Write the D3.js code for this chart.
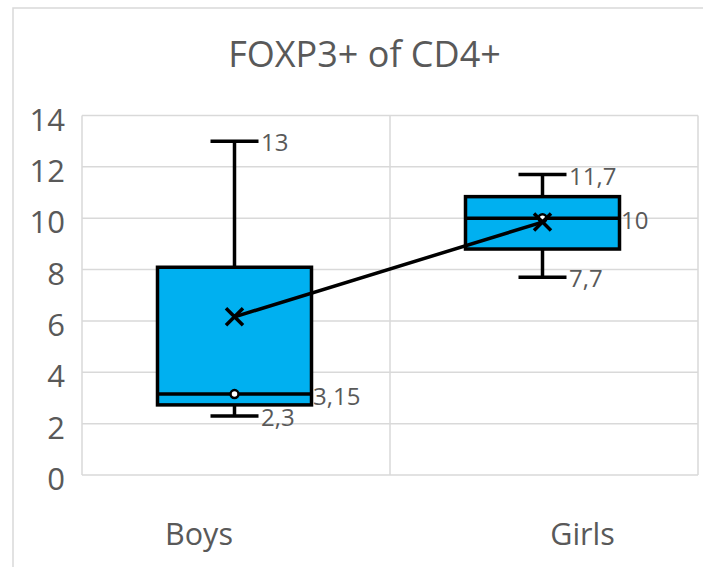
<!DOCTYPE html>
<html>
<head>
<meta charset="utf-8">
<script src="https://cdn.jsdelivr.net/npm/d3@7"></script>
<style>
  html, body { margin: 0; padding: 0; background: #fff; }
  svg { display: block; }
  text { font-family: "Open Sans", "DejaVu Sans", sans-serif; fill: #595959; }
</style>
</head>
<body>
<svg id="chart" width="703" height="567"></svg>
<script>
// ---- Data ----
const title = "FOXP3+ of CD4+";
const categories = ["Boys", "Girls"];
const minValues    = [2.3, 7.7];
const q1Values     = [2.73, 8.8];
const medianValues = [3.15, 10];
const q3Values     = [8.09, 10.84];
const maxValues    = [13, 11.7];
const meanValues   = [6.16, 9.85];
const minLabels    = ["2,3", "7,7"];
const medianLabels = ["3,15", "10"];
const maxLabels    = ["13", "11,7"];
const yTicks = [0, 2, 4, 6, 8, 10, 12, 14];

const data = categories.map((c, i) => ({
  cat: c, min: minValues[i], q1: q1Values[i], med: medianValues[i],
  q3: q3Values[i], max: maxValues[i], mean: meanValues[i],
  minL: minLabels[i], medL: medianLabels[i], maxL: maxLabels[i]
}));

// ---- Layout ----
const svg = d3.select("#chart");
const plot = { left: 82, right: 698, top: 115.5, bottom: 475 };

const x = d3.scaleBand().domain(categories).range([plot.left, plot.right]).padding(0);
const y = d3.scaleLinear().domain([0, 14]).range([plot.bottom, plot.top]);

const grid = "#d9d9d9";
const fill = "#00B0F0";
const stroke = "#000";
const sw = 3.5;

// outer chart border
svg.append("rect").attr("x", 13).attr("y", 8).attr("width", 720).attr("height", 600)
  .attr("fill", "none").attr("stroke", grid).attr("stroke-width", 1.5);

// title
svg.append("text").attr("x", 364.5).attr("y", 66.7).attr("text-anchor", "middle")
  .style("font-size", "36px").text(title);

// horizontal gridlines
svg.append("g").selectAll("line").data(yTicks).join("line")
  .attr("x1", plot.left).attr("x2", plot.right)
  .attr("y1", d => y(d)).attr("y2", d => y(d))
  .attr("stroke", grid).attr("stroke-width", 1.5);

// vertical gridlines (band boundaries)
const vBounds = categories.map(c => x(c)).concat([plot.right]);
svg.append("g").selectAll("line").data(vBounds).join("line")
  .attr("x1", d => d).attr("x2", d => d)
  .attr("y1", plot.top).attr("y2", plot.bottom)
  .attr("stroke", grid).attr("stroke-width", 1.5);

// y axis labels
svg.append("g").selectAll("text").data(yTicks).join("text")
  .attr("x", 65).attr("y", d => y(d) + 15).attr("text-anchor", "end")
  .style("font-size", "31px").text(d => d);

// category labels
const catOffsets = [-37, 38.5];
svg.append("g").selectAll("text").data(categories).join("text")
  .attr("x", (d, i) => x(d) + x.bandwidth() / 2 + catOffsets[i])
  .attr("y", 545).attr("text-anchor", "middle")
  .style("font-size", "30.5px").text(d => d);

const boxW = x.bandwidth() * 0.5;
const capW = 48;
const cx = d => x(d.cat) + x.bandwidth() / 2 - 1.5;

const g = svg.append("g");

// whiskers
data.forEach(d => {
  const c = cx(d);
  g.append("line").attr("x1", c).attr("x2", c).attr("y1", y(d.max)).attr("y2", y(d.q3))
    .attr("stroke", stroke).attr("stroke-width", sw);
  g.append("line").attr("x1", c).attr("x2", c).attr("y1", y(d.q1)).attr("y2", y(d.min))
    .attr("stroke", stroke).attr("stroke-width", sw);
  g.append("line").attr("x1", c - capW / 2).attr("x2", c + capW / 2).attr("y1", y(d.max)).attr("y2", y(d.max))
    .attr("stroke", stroke).attr("stroke-width", sw);
  g.append("line").attr("x1", c - capW / 2).attr("x2", c + capW / 2).attr("y1", y(d.min)).attr("y2", y(d.min))
    .attr("stroke", stroke).attr("stroke-width", sw);
});

// boxes
g.selectAll("rect.box").data(data).join("rect").attr("class", "box")
  .attr("x", d => cx(d) - boxW / 2).attr("width", boxW)
  .attr("y", d => y(d.q3)).attr("height", d => y(d.q1) - y(d.q3))
  .attr("fill", fill).attr("stroke", stroke).attr("stroke-width", sw);

// median lines
g.selectAll("line.med").data(data).join("line").attr("class", "med")
  .attr("x1", d => cx(d) - boxW / 2).attr("x2", d => cx(d) + boxW / 2)
  .attr("y1", d => y(d.med)).attr("y2", d => y(d.med))
  .attr("stroke", stroke).attr("stroke-width", sw);

// mean line
const meanLine = d3.line().x(d => cx(d)).y(d => y(d.mean));
g.append("path").datum(data).attr("d", meanLine)
  .attr("fill", "none").attr("stroke", stroke).attr("stroke-width", sw);

// inner points (circle at median)
g.selectAll("circle.pt").data(data).join("circle").attr("class", "pt")
  .attr("cx", d => cx(d)).attr("cy", d => y(d.med)).attr("r", 4)
  .attr("fill", "#fff").attr("stroke", stroke).attr("stroke-width", 2.5);

// mean X markers
const xs = 8.5;
data.forEach(d => {
  const c = cx(d), m = y(d.mean);
  g.append("path")
    .attr("d", `M${c - xs},${m - xs}L${c + xs},${m + xs}M${c - xs},${m + xs}L${c + xs},${m - xs}`)
    .attr("stroke", stroke).attr("stroke-width", sw).attr("fill", "none");
});

// data labels
const lab = svg.append("g").style("font-size", "24px");
data.forEach(d => {
  const c = cx(d);
  lab.append("text").attr("x", c + capW / 2 + 2.5).attr("y", y(d.max) + 10).text(d.maxL);
  lab.append("text").attr("x", c + capW / 2 + 2.5).attr("y", y(d.min) + 10).text(d.minL);
  lab.append("text").attr("x", c + boxW / 2 + 1.5).attr("y", y(d.med) + 11).text(d.medL);
});
</script>
</body>
</html>
